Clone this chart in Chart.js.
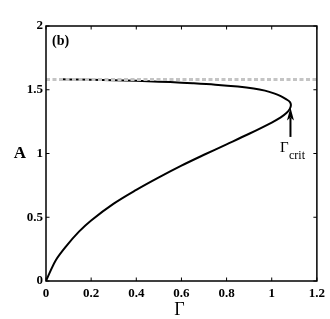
<!DOCTYPE html>
<html>
<head>
<meta charset="utf-8">
<script src="https://cdn.jsdelivr.net/npm/chart.js@4"></script>
<style>
html,body{margin:0;padding:0;background:#fff;}
#wrap{width:330px;height:319px;}
</style>
</head>
<body>
<div id="wrap"><canvas id="c" width="330" height="319"></canvas></div>
<script>
// ---- data ----
// lower (stable) branch, from the origin up to the turning point
const lowerGamma = [0, 0.015, 0.044, 0.088, 0.146, 0.2, 0.3, 0.4, 0.5, 0.6, 0.7, 0.8, 0.9, 1.0, 1.04, 1.065, 1.08, 1.085];
const lowerA     = [0, 0.06, 0.165, 0.27, 0.387, 0.475, 0.607, 0.715, 0.813, 0.905, 0.99, 1.072, 1.155, 1.243, 1.283, 1.317, 1.35, 1.38];
// upper branch, from the turning point back towards Γ = 0
const upperGamma = [1.08, 1.065, 1.04, 1.01, 0.97, 0.92, 0.85, 0.75, 0.65, 0.55, 0.45, 0.35, 0.25, 0.15, 0.066];
const upperA     = [1.405, 1.425, 1.45, 1.472, 1.493, 1.510, 1.525, 1.540, 1.551, 1.560, 1.567, 1.573, 1.577, 1.580, 1.582];
const limitGamma = [0, 1.2];
const limitA     = [1.58, 1.58];
const arrowGamma = 1.083;
const arrowFromA = 1.13;
const arrowToA   = 1.36;
const xTickLabels = ['0', '0.2', '0.4', '0.6', '0.8', '1', '1.2'];
const yTickLabels = ['0', '0.5', '1', '1.5', '2'];

const pts = (xs, ys) => xs.map((x, i) => ({x: x, y: ys[i]}));
const curve = pts(lowerGamma, lowerA).concat(pts(upperGamma, upperA));

const tickFont = {family: '"Liberation Serif", "Times New Roman", serif', size: 13, weight: 'bold'};

const overlay = {
  id: 'overlay',
  afterDraw(chart) {
    const ctx = chart.ctx, a = chart.chartArea;
    const xs = chart.scales.x, ys = chart.scales.y;
    ctx.save();
    // frame
    ctx.strokeStyle = '#000';
    ctx.lineWidth = 1.5;
    ctx.strokeRect(a.left, a.top, a.right - a.left, a.bottom - a.top);
    // inward ticks
    ctx.lineWidth = 1;
    const L = 3.5;
    xs.ticks.forEach(t => {
      const p = xs.getPixelForValue(t.value);
      ctx.beginPath();
      ctx.moveTo(p, a.bottom); ctx.lineTo(p, a.bottom - L);
      ctx.moveTo(p, a.top); ctx.lineTo(p, a.top + L);
      ctx.stroke();
    });
    ys.ticks.forEach(t => {
      const p = ys.getPixelForValue(t.value);
      ctx.beginPath();
      ctx.moveTo(a.left, p); ctx.lineTo(a.left + L, p);
      ctx.moveTo(a.right, p); ctx.lineTo(a.right - L, p);
      ctx.stroke();
    });
    // arrow
    const ax = xs.getPixelForValue(arrowGamma);
    const y0 = ys.getPixelForValue(arrowFromA);
    const y1 = ys.getPixelForValue(arrowToA);
    ctx.lineWidth = 2;
    ctx.beginPath();
    ctx.moveTo(ax, y0); ctx.lineTo(ax, y1 + 10);
    ctx.stroke();
    ctx.fillStyle = '#000';
    ctx.beginPath();
    ctx.moveTo(ax, y1);
    ctx.lineTo(ax - 3.5, y1 + 13);
    ctx.lineTo(ax, y1 + 10);
    ctx.lineTo(ax + 3.5, y1 + 13);
    ctx.closePath();
    ctx.fill();
    // texts
    ctx.fillStyle = '#000';
    ctx.textBaseline = 'alphabetic';
    ctx.textAlign = 'left';
    ctx.font = 'bold 14px "Liberation Serif", serif';
    ctx.fillText('(b)', a.left + 6, a.top + 19);
    ctx.font = 'bold 17px "Liberation Serif", serif';
    ctx.textAlign = 'center';
    ctx.fillText('A', 20, 158);
    ctx.font = '18px "Liberation Serif", serif';
    ctx.fillText('Γ', (a.left + a.right) / 2 - 2, 315);
    ctx.textAlign = 'left';
    ctx.font = '15px "Liberation Serif", serif';
    ctx.fillText('Γ', 280, 152);
    ctx.font = '12px "Liberation Serif", serif';
    ctx.fillText('crit', 289, 159);
    ctx.restore();
  }
};

new Chart(document.getElementById('c'), {
  type: 'scatter',
  data: {
    datasets: [
      {data: pts(limitGamma, limitA), showLine: true, borderColor: '#c4c4c4', borderWidth: 3, borderDash: [4, 2.5], pointRadius: 0, tension: 0},
      {data: curve, showLine: true, borderColor: '#000', borderWidth: 2, pointRadius: 0, tension: 0.35, borderJoinStyle: 'round', borderCapStyle: 'round'}
    ]
  },
  options: {
    responsive: false,
    animation: false,
    events: [],
    layout: {padding: {top: 26, right: 11, left: 0, bottom: 0}},
    plugins: {legend: {display: false}, tooltip: {enabled: false}},
    scales: {
      x: {
        type: 'linear', min: 0, max: 1.2,
        afterFit: s => { s.height = 38; },
        grid: {display: false, drawTicks: false},
        border: {display: false},
        ticks: {stepSize: 0.2, autoSkip: false, maxRotation: 0, padding: 5, color: '#000', font: tickFont,
          callback: v => xTickLabels[Math.round(v / 0.2)]}
      },
      y: {
        type: 'linear', min: 0, max: 2,
        afterFit: s => { s.width = 46; },
        grid: {display: false, drawTicks: false},
        border: {display: false},
        ticks: {stepSize: 0.5, autoSkip: false, padding: 3, color: '#000', font: tickFont,
          callback: v => yTickLabels[Math.round(v / 0.5)]}
      }
    }
  },
  plugins: [overlay]
});
</script>
</body>
</html>
